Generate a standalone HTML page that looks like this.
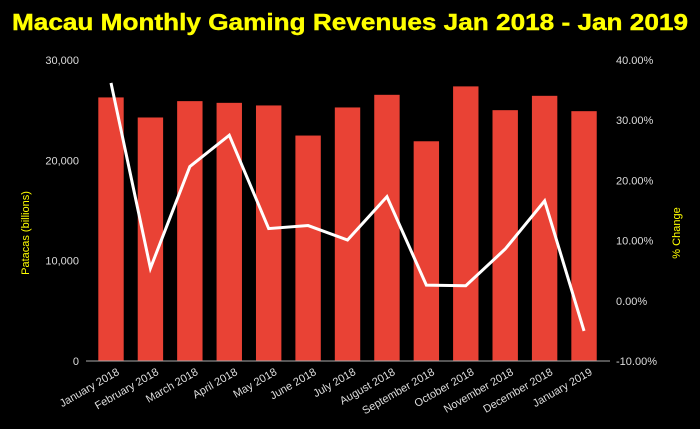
<!DOCTYPE html>
<html><head><meta charset="utf-8"><style>
html,body{margin:0;padding:0;background:#000;}
svg{display:block;font-family:"Liberation Sans",sans-serif;}
</style></head><body>
<svg id="chart" width="700" height="429" viewBox="0 0 700 429">
<rect width="700" height="429" fill="#000"/>
<text x="350" y="30" text-anchor="middle" fill="#ffff00" stroke="#ffff00" stroke-width="0.4" font-size="23" font-weight="bold" textLength="676" lengthAdjust="spacingAndGlyphs">Macau Monthly Gaming Revenues Jan 2018 - Jan 2019</text>
<text transform="translate(29,233) rotate(-90)" text-anchor="middle" fill="#ffff00" font-size="11">Patacas (billions)</text>
<text transform="translate(680,233) rotate(-90)" text-anchor="middle" fill="#ffff00" font-size="11">% Change</text>
<g id="bars"></g><g id="ticks"></g><g id="xlabels"></g>
<line x1="86" y1="361" x2="610" y2="361" stroke="#aaa" stroke-width="1"/>
<polyline id="line" fill="none" stroke="#fff" stroke-width="3" stroke-linejoin="miter"/>
</svg>
<script>
const categories=["January 2018","February 2018","March 2018","April 2018","May 2018","June 2018","July 2018","August 2018","September 2018","October 2018","November 2018","December 2018","January 2019"];
const revenues=[26270,24270,25900,25730,25470,22470,25270,26530,21900,27370,25000,26430,24900];
const pctChange=[36.2,5.4,22.3,27.5,12.0,12.5,10.1,17.3,2.6,2.5,8.6,16.6,-5.0];
const leftTicks=[0,10000,20000,30000];
const leftTickLabels=["0","10,000","20,000","30,000"];
const rightTicks=[-10,0,10,20,30,40];
const rightTickLabels=["-10.00%","0.00%","10.00%","20.00%","30.00%","40.00%"];
const NS="http://www.w3.org/2000/svg";
const yL=v=>361-v*(301/30000);
const yR=v=>361-(v+10)*(301/50);
const xC=i=>111+i*39.42;
const bars=document.getElementById('bars'),ticks=document.getElementById('ticks'),xl=document.getElementById('xlabels');
categories.forEach((c,i)=>{
 const r=document.createElementNS(NS,'rect');
 r.setAttribute('x',xC(i)-12.7);r.setAttribute('width',25.4);
 r.setAttribute('y',yL(revenues[i]));r.setAttribute('height',361-yL(revenues[i]));
 r.setAttribute('fill','#e94235');
 
 
 bars.appendChild(r);
 const t=document.createElementNS(NS,'text');
 t.setAttribute('transform',`translate(${xC(i)+9},${374}) rotate(-30)`);
 t.setAttribute('text-anchor','end');t.setAttribute('fill','#ddd');t.setAttribute('font-size','11');
 t.textContent=c;
 
 
 xl.appendChild(t);
});
leftTicks.forEach((v,i)=>{
 const t=document.createElementNS(NS,'text');
 t.setAttribute('x',79);t.setAttribute('y',yL(v)+4);t.setAttribute('text-anchor','end');
 t.setAttribute('fill','#ddd');t.setAttribute('font-size','11');t.textContent=leftTickLabels[i];
 
 
 ticks.appendChild(t);
});
rightTicks.forEach((v,i)=>{
 const t=document.createElementNS(NS,'text');
 t.setAttribute('x',616);t.setAttribute('y',yR(v)+4);
 t.setAttribute('fill','#ddd');t.setAttribute('font-size','11');t.textContent=rightTickLabels[i];
 
 
 ticks.appendChild(t);
});
document.getElementById('line').setAttribute('points',pctChange.map((v,i)=>xC(i)+','+yR(v)).join(' '));
</script>
</body></html>
